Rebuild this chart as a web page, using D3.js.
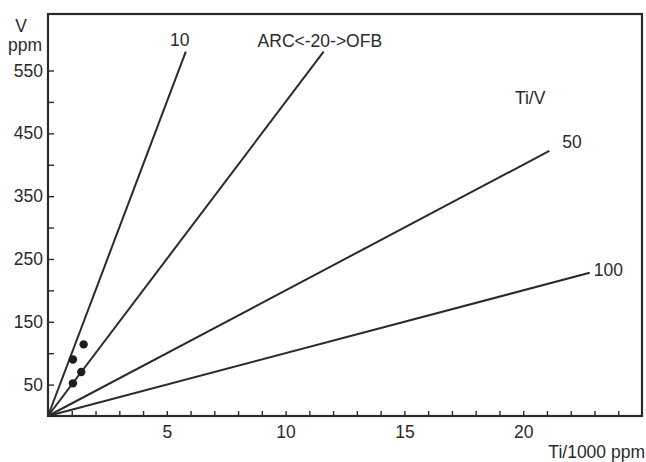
<!DOCTYPE html>
<html>
<head>
<meta charset="utf-8">
<script src="https://cdn.jsdelivr.net/npm/d3@7"></script>
<style>
  body { margin: 0; background: #fff; }
  svg { display: block; }
  text { font-family: "Liberation Sans", Arial, sans-serif; fill: #2a2a2a; }
</style>
</head>
<body>
<script>
// Ti/V reference lines: ratio and the Ti (x1000 ppm) where each line stops
const ratios = [10, 20, 50, 100];
const lineEnds = [5.8, 11.6, 21.1, 22.8];
const lineLabels = ["10", "ARC<-20->OFB", "50", "100"];

// samples (Ti/1000 ppm, V ppm)
const sampleTi = [1.05, 1.5, 1.4, 1.05];
const sampleV = [90, 114, 70, 52];

const xTicks = d3.range(1, 25);
const xLabels = [5, 10, 15, 20];
const yTicks = d3.range(50, 600, 50);
const yLabels = [50, 150, 250, 350, 450, 550];

const W = 646, H = 462;
const ink = "#2a2a2a";
const fs = 17.5;

const x = d3.scaleLinear().domain([0, 25]).range([48, 642]);
const y = d3.scaleLinear().domain([0, 640]).range([416, 14]);

const svg = d3.select("body").append("svg").attr("width", W).attr("height", H);

// frame
svg.append("rect")
  .attr("x", x(0)).attr("y", y(640))
  .attr("width", x(25) - x(0)).attr("height", y(0) - y(640))
  .attr("fill", "none").attr("stroke", ink).attr("stroke-width", 2.2);

const xAxis = svg.append("g")
  .attr("transform", `translate(0,${y(0)})`)
  .call(d3.axisBottom(x).tickValues(xTicks).tickSize(-5).tickPadding(10)
    .tickFormat(d => xLabels.includes(d) ? d : ""));

const yAxis = svg.append("g")
  .attr("transform", `translate(${x(0)},0)`)
  .call(d3.axisLeft(y).tickValues(yTicks).tickSize(-6).tickPadding(5)
    .tickFormat(d => yLabels.includes(d) ? d : ""));

[xAxis, yAxis].forEach(g => {
  g.select(".domain").remove();
  g.selectAll(".tick line").attr("stroke", ink).attr("stroke-width", 1.4);
  g.selectAll(".tick text").attr("font-size", fs).attr("fill", ink)
    .attr("font-family", "'Liberation Sans', Arial, sans-serif");
});

// ratio lines: V = Ti*1000 / ratio
svg.append("g")
  .attr("stroke", ink).attr("stroke-width", 2)
  .selectAll("line")
  .data(ratios)
  .join("line")
  .attr("x1", x(0)).attr("y1", y(0))
  .attr("x2", (r, i) => x(lineEnds[i]))
  .attr("y2", (r, i) => y(lineEnds[i] * 1000 / r));

// line labels
const lab = (i) => ({ xv: lineEnds[i], yv: lineEnds[i] * 1000 / ratios[i] });
const labelPos = [
  { dx: -6, dy: -6, anchor: "middle" },
  { dx: -66, dy: -5, anchor: "start" },
  { dx: 13, dy: -3, anchor: "start" },
  { dx: 4, dy: 3, anchor: "start" }
];
svg.append("g")
  .attr("font-size", fs)
  .selectAll("text")
  .data(lineLabels)
  .join("text")
  .attr("x", (d, i) => x(lab(i).xv) + labelPos[i].dx)
  .attr("y", (d, i) => y(lab(i).yv) + labelPos[i].dy)
  .attr("text-anchor", (d, i) => labelPos[i].anchor)
  .text(d => d);

svg.append("text").attr("x", x(19.65)).attr("y", y(497)).attr("font-size", fs).text("Ti/V");

// samples
svg.append("g")
  .selectAll("circle")
  .data(sampleTi)
  .join("circle")
  .attr("cx", d => x(d))
  .attr("cy", (d, i) => y(sampleV[i]))
  .attr("r", 4.2)
  .attr("fill", "#1e1e1e");

// axis titles
svg.append("text").attr("x", 21).attr("y", 32).attr("font-size", fs).attr("text-anchor", "middle").text("V");
svg.append("text").attr("x", 25).attr("y", 51).attr("font-size", fs).attr("text-anchor", "middle").text("ppm");
svg.append("text").attr("x", 645).attr("y", 458).attr("font-size", fs).attr("text-anchor", "end").text("Ti/1000 ppm");
</script>
</body>
</html>
